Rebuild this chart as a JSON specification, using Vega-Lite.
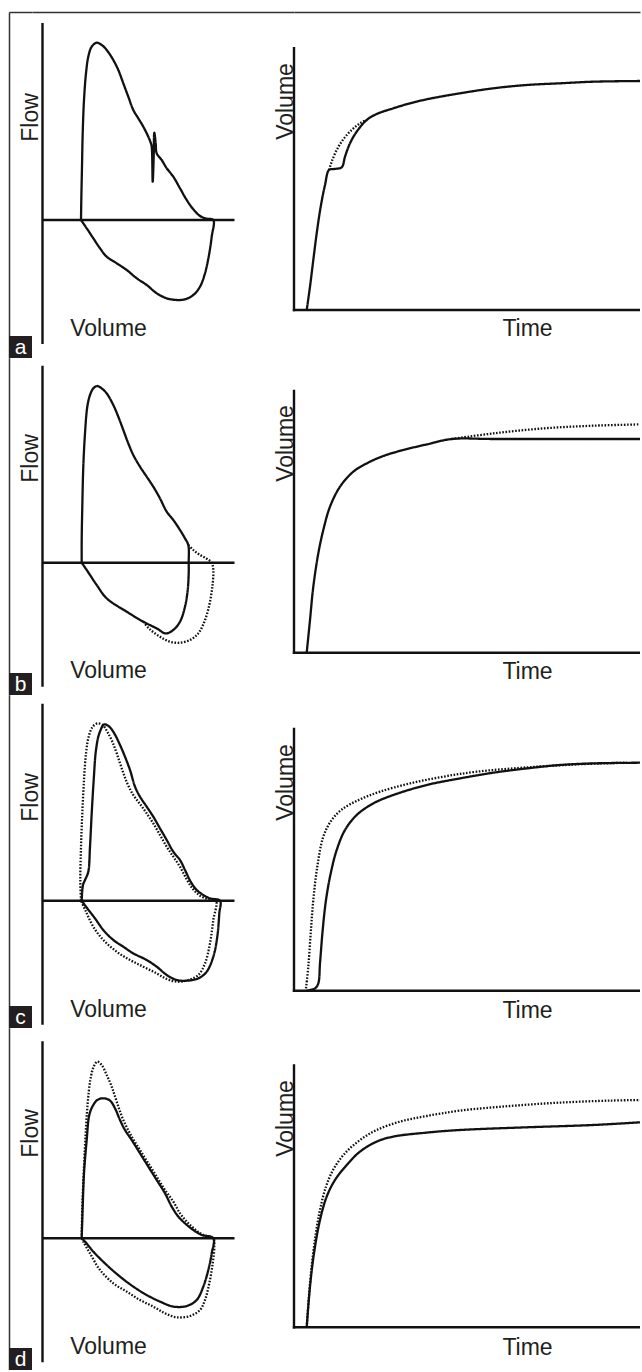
{
"$schema": "https://vega.github.io/schema/vega-lite/v6.json",
"padding": {"left": 9, "top": 12, "right": 0, "bottom": 0},
"background": "white",
"config": {
  "view": {"stroke": null},
  "axis": {"grid": false, "ticks": false, "labels": false, "domain": false, "domainColor": "#333", "domainWidth": 1.5,
           "titleFont": "Liberation Sans", "titleFontSize": 23, "titleFontWeight": "normal", "titleColor": "#231f20",
           "titleBaseline": "alphabetic", "titleAlign": "center", "titlePadding": 0},
  "line": {"color": "#111", "strokeWidth": 2.3},
  "rule": {"color": "#111", "strokeWidth": 2.4}
},
"datasets": {
"curves": [
{"r":"a","p":"L","s":"solid","x":3.85,"y":0},{"r":"a","p":"L","s":"solid","x":3.88,"y":2.0},{"r":"a","p":"L","s":"solid","x":3.95,"y":5.33},{"r":"a","p":"L","s":"solid","x":4.02,"y":8.67},{"r":"a","p":"L","s":"solid","x":4.15,"y":12.0},{"r":"a","p":"L","s":"solid","x":4.35,"y":14.67},{"r":"a","p":"L","s":"solid","x":4.58,"y":16.33},{"r":"a","p":"L","s":"solid","x":4.92,"y":17.33},{"r":"a","p":"L","s":"solid","x":5.42,"y":17.73},{"r":"a","p":"L","s":"solid","x":5.92,"y":17.5},{"r":"a","p":"L","s":"solid","x":6.42,"y":17.0},{"r":"a","p":"L","s":"solid","x":7.08,"y":16.0},{"r":"a","p":"L","s":"solid","x":7.58,"y":15.0},{"r":"a","p":"L","s":"solid","x":8.08,"y":13.67},{"r":"a","p":"L","s":"solid","x":8.58,"y":12.33},{"r":"a","p":"L","s":"solid","x":9.08,"y":11.0},{"r":"a","p":"L","s":"solid","x":9.58,"y":10.17},{"r":"a","p":"L","s":"solid","x":10.08,"y":9.33},{"r":"a","p":"L","s":"solid","x":10.58,"y":8.33},{"r":"a","p":"L","s":"solid","x":10.82,"y":7.73},{"r":"a","p":"L","s":"solid","x":10.92,"y":7.33},{"r":"a","p":"L","s":"solid","x":11.02,"y":3.83},{"r":"a","p":"L","s":"solid","x":11.12,"y":6.33},{"r":"a","p":"L","s":"solid","x":11.18,"y":8.73},{"r":"a","p":"L","s":"solid","x":11.32,"y":7.67},{"r":"a","p":"L","s":"solid","x":11.42,"y":6.67},{"r":"a","p":"L","s":"solid","x":11.92,"y":6.0},{"r":"a","p":"L","s":"solid","x":12.42,"y":5.17},{"r":"a","p":"L","s":"solid","x":13.08,"y":4.33},{"r":"a","p":"L","s":"solid","x":13.75,"y":3.17},{"r":"a","p":"L","s":"solid","x":14.42,"y":2.0},{"r":"a","p":"L","s":"solid","x":15.08,"y":1.07},{"r":"a","p":"L","s":"solid","x":15.75,"y":0.4},{"r":"a","p":"L","s":"solid","x":16.42,"y":0.13},{"r":"a","p":"L","s":"solid","x":17.08,"y":0},{"r":"a","p":"L","s":"solid","x":16.92,"y":-1.67},{"r":"a","p":"L","s":"solid","x":16.68,"y":-3.33},{"r":"a","p":"L","s":"solid","x":16.25,"y":-5.33},{"r":"a","p":"L","s":"solid","x":15.75,"y":-6.67},{"r":"a","p":"L","s":"solid","x":15.08,"y":-7.5},{"r":"a","p":"L","s":"solid","x":14.25,"y":-7.93},{"r":"a","p":"L","s":"solid","x":13.42,"y":-8.0},{"r":"a","p":"L","s":"solid","x":12.42,"y":-7.83},{"r":"a","p":"L","s":"solid","x":11.42,"y":-7.33},{"r":"a","p":"L","s":"solid","x":10.42,"y":-6.5},{"r":"a","p":"L","s":"solid","x":9.42,"y":-5.83},{"r":"a","p":"L","s":"solid","x":8.42,"y":-5.0},{"r":"a","p":"L","s":"solid","x":7.42,"y":-4.33},{"r":"a","p":"L","s":"solid","x":6.42,"y":-3.67},{"r":"a","p":"L","s":"solid","x":5.75,"y":-2.83},{"r":"a","p":"L","s":"solid","x":5.08,"y":-1.83},{"r":"a","p":"L","s":"solid","x":4.42,"y":-0.83},{"r":"a","p":"L","s":"solid","x":3.85,"y":0},

{"r":"a","p":"T","s":"solid","x":1.27,"y":0},{"r":"a","p":"T","s":"solid","x":1.6,"y":2.33},{"r":"a","p":"T","s":"solid","x":1.93,"y":5.0},{"r":"a","p":"T","s":"solid","x":2.27,"y":7.67},{"r":"a","p":"T","s":"solid","x":2.67,"y":10.33},{"r":"a","p":"T","s":"solid","x":3.1,"y":12.5},{"r":"a","p":"T","s":"solid","x":3.5,"y":14.0},{"r":"a","p":"T","s":"solid","x":4.0,"y":14.1},{"r":"a","p":"T","s":"solid","x":4.77,"y":14.27},{"r":"a","p":"T","s":"solid","x":5.1,"y":15.33},{"r":"a","p":"T","s":"solid","x":5.6,"y":16.67},{"r":"a","p":"T","s":"solid","x":6.27,"y":17.83},{"r":"a","p":"T","s":"solid","x":7.27,"y":19.0},{"r":"a","p":"T","s":"solid","x":8.27,"y":19.6},{"r":"a","p":"T","s":"solid","x":9.93,"y":20.17},{"r":"a","p":"T","s":"solid","x":11.6,"y":20.67},{"r":"a","p":"T","s":"solid","x":13.27,"y":21.07},{"r":"a","p":"T","s":"solid","x":16.6,"y":21.67},{"r":"a","p":"T","s":"solid","x":19.93,"y":22.17},{"r":"a","p":"T","s":"solid","x":23.27,"y":22.5},{"r":"a","p":"T","s":"solid","x":26.6,"y":22.67},{"r":"a","p":"T","s":"solid","x":29.93,"y":22.83},{"r":"a","p":"T","s":"solid","x":34.6,"y":22.9},
{"r":"a","p":"T","s":"dotted","x":3.5,"y":14.0},{"r":"a","p":"T","s":"dotted","x":3.77,"y":14.83},{"r":"a","p":"T","s":"dotted","x":4.27,"y":16.0},{"r":"a","p":"T","s":"dotted","x":4.93,"y":17.07},{"r":"a","p":"T","s":"dotted","x":5.77,"y":18.0},{"r":"a","p":"T","s":"dotted","x":6.6,"y":18.67},{"r":"a","p":"T","s":"dotted","x":7.27,"y":19.0},

{"r":"b","p":"L","s":"solid","x":3.92,"y":0},{"r":"b","p":"L","s":"solid","x":3.92,"y":2.27},{"r":"b","p":"L","s":"solid","x":3.98,"y":5.6},{"r":"b","p":"L","s":"solid","x":4.08,"y":9.6},{"r":"b","p":"L","s":"solid","x":4.25,"y":12.93},{"r":"b","p":"L","s":"solid","x":4.48,"y":15.6},{"r":"b","p":"L","s":"solid","x":4.75,"y":16.77},{"r":"b","p":"L","s":"solid","x":5.08,"y":17.43},{"r":"b","p":"L","s":"solid","x":5.48,"y":17.67},{"r":"b","p":"L","s":"solid","x":5.92,"y":17.43},{"r":"b","p":"L","s":"solid","x":6.42,"y":16.93},{"r":"b","p":"L","s":"solid","x":7.08,"y":15.77},{"r":"b","p":"L","s":"solid","x":7.58,"y":14.6},{"r":"b","p":"L","s":"solid","x":8.08,"y":13.27},{"r":"b","p":"L","s":"solid","x":8.58,"y":11.93},{"r":"b","p":"L","s":"solid","x":9.08,"y":10.77},{"r":"b","p":"L","s":"solid","x":9.75,"y":9.6},{"r":"b","p":"L","s":"solid","x":10.42,"y":8.6},{"r":"b","p":"L","s":"solid","x":11.08,"y":7.6},{"r":"b","p":"L","s":"solid","x":11.75,"y":6.43},{"r":"b","p":"L","s":"solid","x":12.42,"y":5.1},{"r":"b","p":"L","s":"solid","x":13.08,"y":4.27},{"r":"b","p":"L","s":"solid","x":13.75,"y":3.27},{"r":"b","p":"L","s":"solid","x":14.25,"y":2.43},{"r":"b","p":"L","s":"solid","x":14.58,"y":1.77},{"r":"b","p":"L","s":"solid","x":14.62,"y":0},{"r":"b","p":"L","s":"solid","x":14.62,"y":-1.07},{"r":"b","p":"L","s":"solid","x":14.52,"y":-2.73},{"r":"b","p":"L","s":"solid","x":14.25,"y":-4.4},{"r":"b","p":"L","s":"solid","x":13.75,"y":-5.9},{"r":"b","p":"L","s":"solid","x":13.08,"y":-6.73},{"r":"b","p":"L","s":"solid","x":12.32,"y":-7.07},{"r":"b","p":"L","s":"solid","x":11.42,"y":-6.57},{"r":"b","p":"L","s":"solid","x":10.08,"y":-5.9},{"r":"b","p":"L","s":"solid","x":8.42,"y":-4.9},{"r":"b","p":"L","s":"solid","x":6.42,"y":-3.57},{"r":"b","p":"L","s":"solid","x":5.42,"y":-2.23},{"r":"b","p":"L","s":"solid","x":4.42,"y":-0.73},{"r":"b","p":"L","s":"solid","x":3.92,"y":0},
{"r":"b","p":"L","s":"dotted","x":14.58,"y":1.77},{"r":"b","p":"L","s":"dotted","x":15.08,"y":1.27},{"r":"b","p":"L","s":"dotted","x":15.75,"y":0.77},{"r":"b","p":"L","s":"dotted","x":16.42,"y":0.4},{"r":"b","p":"L","s":"dotted","x":16.92,"y":0},{"r":"b","p":"L","s":"dotted","x":17.08,"y":-0.73},{"r":"b","p":"L","s":"dotted","x":17.02,"y":-2.07},{"r":"b","p":"L","s":"dotted","x":16.75,"y":-3.9},{"r":"b","p":"L","s":"dotted","x":16.25,"y":-5.73},{"r":"b","p":"L","s":"dotted","x":15.58,"y":-7.07},{"r":"b","p":"L","s":"dotted","x":14.75,"y":-7.73},{"r":"b","p":"L","s":"dotted","x":13.75,"y":-8.0},{"r":"b","p":"L","s":"dotted","x":12.75,"y":-7.9},{"r":"b","p":"L","s":"dotted","x":11.75,"y":-7.4},{"r":"b","p":"L","s":"dotted","x":10.75,"y":-6.67},{"r":"b","p":"L","s":"dotted","x":10.08,"y":-5.9},

{"r":"b","p":"T","s":"solid","x":1.27,"y":0},{"r":"b","p":"T","s":"solid","x":1.6,"y":3.27},{"r":"b","p":"T","s":"solid","x":1.93,"y":6.6},{"r":"b","p":"T","s":"solid","x":2.43,"y":9.93},{"r":"b","p":"T","s":"solid","x":2.93,"y":12.27},{"r":"b","p":"T","s":"solid","x":3.6,"y":14.6},{"r":"b","p":"T","s":"solid","x":4.6,"y":16.6},{"r":"b","p":"T","s":"solid","x":5.93,"y":18.1},{"r":"b","p":"T","s":"solid","x":7.27,"y":18.93},{"r":"b","p":"T","s":"solid","x":8.93,"y":19.67},{"r":"b","p":"T","s":"solid","x":10.93,"y":20.27},{"r":"b","p":"T","s":"solid","x":13.27,"y":20.83},{"r":"b","p":"T","s":"solid","x":15.77,"y":21.37},{"r":"b","p":"T","s":"solid","x":20.0,"y":21.37},{"r":"b","p":"T","s":"solid","x":34.6,"y":21.37},
{"r":"b","p":"T","s":"dotted","x":15.77,"y":21.37},{"r":"b","p":"T","s":"dotted","x":19.93,"y":21.93},{"r":"b","p":"T","s":"dotted","x":24.93,"y":22.43},{"r":"b","p":"T","s":"dotted","x":29.93,"y":22.7},{"r":"b","p":"T","s":"dotted","x":34.6,"y":22.83},

{"r":"c","p":"L","s":"solid","x":3.92,"y":0},{"r":"c","p":"L","s":"solid","x":4.05,"y":1.57},{"r":"c","p":"L","s":"solid","x":4.28,"y":2.13},{"r":"c","p":"L","s":"solid","x":4.58,"y":2.9},{"r":"c","p":"L","s":"solid","x":4.75,"y":5.4},{"r":"c","p":"L","s":"solid","x":4.92,"y":8.73},{"r":"c","p":"L","s":"solid","x":5.12,"y":12.07},{"r":"c","p":"L","s":"solid","x":5.35,"y":15.07},{"r":"c","p":"L","s":"solid","x":5.68,"y":16.73},{"r":"c","p":"L","s":"solid","x":6.18,"y":17.63},{"r":"c","p":"L","s":"solid","x":6.68,"y":17.4},{"r":"c","p":"L","s":"solid","x":7.18,"y":16.73},{"r":"c","p":"L","s":"solid","x":7.68,"y":15.73},{"r":"c","p":"L","s":"solid","x":8.18,"y":14.57},{"r":"c","p":"L","s":"solid","x":8.75,"y":13.07},{"r":"c","p":"L","s":"solid","x":9.25,"y":11.4},{"r":"c","p":"L","s":"solid","x":9.75,"y":10.4},{"r":"c","p":"L","s":"solid","x":10.42,"y":9.4},{"r":"c","p":"L","s":"solid","x":11.08,"y":8.4},{"r":"c","p":"L","s":"solid","x":11.75,"y":7.23},{"r":"c","p":"L","s":"solid","x":12.42,"y":6.07},{"r":"c","p":"L","s":"solid","x":13.08,"y":4.9},{"r":"c","p":"L","s":"solid","x":13.75,"y":4.07},{"r":"c","p":"L","s":"solid","x":14.25,"y":3.07},{"r":"c","p":"L","s":"solid","x":14.82,"y":1.9},{"r":"c","p":"L","s":"solid","x":15.42,"y":1.07},{"r":"c","p":"L","s":"solid","x":16.08,"y":0.57},{"r":"c","p":"L","s":"solid","x":16.75,"y":0.23},{"r":"c","p":"L","s":"solid","x":17.75,"y":0},{"r":"c","p":"L","s":"solid","x":17.68,"y":-1.27},{"r":"c","p":"L","s":"solid","x":17.48,"y":-3.6},{"r":"c","p":"L","s":"solid","x":17.08,"y":-5.6},{"r":"c","p":"L","s":"solid","x":16.42,"y":-7.1},{"r":"c","p":"L","s":"solid","x":15.58,"y":-7.77},{"r":"c","p":"L","s":"solid","x":14.42,"y":-8.0},{"r":"c","p":"L","s":"solid","x":13.42,"y":-7.93},{"r":"c","p":"L","s":"solid","x":12.42,"y":-7.43},{"r":"c","p":"L","s":"solid","x":11.42,"y":-6.6},{"r":"c","p":"L","s":"solid","x":10.42,"y":-5.93},{"r":"c","p":"L","s":"solid","x":9.08,"y":-5.27},{"r":"c","p":"L","s":"solid","x":8.08,"y":-4.6},{"r":"c","p":"L","s":"solid","x":7.08,"y":-3.93},{"r":"c","p":"L","s":"solid","x":6.08,"y":-2.93},{"r":"c","p":"L","s":"solid","x":5.25,"y":-1.77},{"r":"c","p":"L","s":"solid","x":4.48,"y":-0.77},{"r":"c","p":"L","s":"solid","x":3.92,"y":0},
{"r":"c","p":"L","s":"dotted","x":3.85,"y":0},{"r":"c","p":"L","s":"dotted","x":3.78,"y":2.07},{"r":"c","p":"L","s":"dotted","x":3.85,"y":5.4},{"r":"c","p":"L","s":"dotted","x":3.98,"y":8.73},{"r":"c","p":"L","s":"dotted","x":4.15,"y":12.07},{"r":"c","p":"L","s":"dotted","x":4.35,"y":14.73},{"r":"c","p":"L","s":"dotted","x":4.62,"y":16.4},{"r":"c","p":"L","s":"dotted","x":5.02,"y":17.4},{"r":"c","p":"L","s":"dotted","x":5.52,"y":17.73},{"r":"c","p":"L","s":"dotted","x":6.02,"y":17.57},{"r":"c","p":"L","s":"dotted","x":6.48,"y":16.9},{"r":"c","p":"L","s":"dotted","x":6.98,"y":15.9},{"r":"c","p":"L","s":"dotted","x":7.48,"y":14.57},{"r":"c","p":"L","s":"dotted","x":7.98,"y":13.07},{"r":"c","p":"L","s":"dotted","x":8.48,"y":11.73},{"r":"c","p":"L","s":"dotted","x":9.08,"y":10.57},{"r":"c","p":"L","s":"dotted","x":9.75,"y":9.67},{"r":"c","p":"L","s":"dotted","x":10.42,"y":8.73},{"r":"c","p":"L","s":"dotted","x":11.08,"y":7.73},{"r":"c","p":"L","s":"dotted","x":11.75,"y":6.57},{"r":"c","p":"L","s":"dotted","x":12.42,"y":5.4},{"r":"c","p":"L","s":"dotted","x":13.08,"y":4.4},{"r":"c","p":"L","s":"dotted","x":13.75,"y":3.4},{"r":"c","p":"L","s":"dotted","x":14.42,"y":2.13},{"r":"c","p":"L","s":"dotted","x":15.08,"y":1.13},{"r":"c","p":"L","s":"dotted","x":15.75,"y":0.5},{"r":"c","p":"L","s":"dotted","x":16.58,"y":0.13},{"r":"c","p":"L","s":"dotted","x":17.35,"y":0},{"r":"c","p":"L","s":"dotted","x":17.08,"y":-1.93},{"r":"c","p":"L","s":"dotted","x":16.75,"y":-4.27},{"r":"c","p":"L","s":"dotted","x":16.25,"y":-6.27},{"r":"c","p":"L","s":"dotted","x":15.58,"y":-7.43},{"r":"c","p":"L","s":"dotted","x":14.58,"y":-7.93},{"r":"c","p":"L","s":"dotted","x":13.42,"y":-8.1},{"r":"c","p":"L","s":"dotted","x":12.42,"y":-7.83},{"r":"c","p":"L","s":"dotted","x":11.42,"y":-7.27},{"r":"c","p":"L","s":"dotted","x":10.08,"y":-6.6},{"r":"c","p":"L","s":"dotted","x":8.75,"y":-5.93},{"r":"c","p":"L","s":"dotted","x":7.42,"y":-5.1},{"r":"c","p":"L","s":"dotted","x":6.08,"y":-3.93},{"r":"c","p":"L","s":"dotted","x":5.08,"y":-2.6},{"r":"c","p":"L","s":"dotted","x":4.35,"y":-1.1},{"r":"c","p":"L","s":"dotted","x":3.85,"y":0},

{"r":"c","p":"T","s":"solid","x":1.27,"y":0},{"r":"c","p":"T","s":"solid","x":2.1,"y":0.23},{"r":"c","p":"T","s":"solid","x":2.43,"y":0.73},{"r":"c","p":"T","s":"solid","x":2.6,"y":2.73},{"r":"c","p":"T","s":"solid","x":2.87,"y":6.07},{"r":"c","p":"T","s":"solid","x":3.2,"y":9.07},{"r":"c","p":"T","s":"solid","x":3.67,"y":11.73},{"r":"c","p":"T","s":"solid","x":4.27,"y":14.07},{"r":"c","p":"T","s":"solid","x":5.1,"y":16.07},{"r":"c","p":"T","s":"solid","x":6.27,"y":17.57},{"r":"c","p":"T","s":"solid","x":7.93,"y":18.73},{"r":"c","p":"T","s":"solid","x":9.93,"y":19.57},{"r":"c","p":"T","s":"solid","x":13.27,"y":20.57},{"r":"c","p":"T","s":"solid","x":16.6,"y":21.23},{"r":"c","p":"T","s":"solid","x":19.93,"y":21.8},{"r":"c","p":"T","s":"solid","x":23.27,"y":22.23},{"r":"c","p":"T","s":"solid","x":26.6,"y":22.57},{"r":"c","p":"T","s":"solid","x":29.93,"y":22.73},{"r":"c","p":"T","s":"solid","x":34.6,"y":22.8},
{"r":"c","p":"T","s":"dotted","x":1.2,"y":0.23},{"r":"c","p":"T","s":"dotted","x":1.43,"y":2.4},{"r":"c","p":"T","s":"dotted","x":1.67,"y":5.73},{"r":"c","p":"T","s":"dotted","x":1.93,"y":9.07},{"r":"c","p":"T","s":"dotted","x":2.33,"y":12.4},{"r":"c","p":"T","s":"dotted","x":2.93,"y":15.4},{"r":"c","p":"T","s":"dotted","x":3.77,"y":17.07},{"r":"c","p":"T","s":"dotted","x":4.93,"y":18.23},{"r":"c","p":"T","s":"dotted","x":6.6,"y":19.13},{"r":"c","p":"T","s":"dotted","x":8.6,"y":19.9},{"r":"c","p":"T","s":"dotted","x":11.6,"y":20.73},{"r":"c","p":"T","s":"dotted","x":14.93,"y":21.4},{"r":"c","p":"T","s":"dotted","x":18.27,"y":21.9},{"r":"c","p":"T","s":"dotted","x":23.27,"y":22.33},{"r":"c","p":"T","s":"dotted","x":28.27,"y":22.63},{"r":"c","p":"T","s":"dotted","x":33.27,"y":22.8},

{"r":"d","p":"L","s":"solid","x":3.92,"y":0},{"r":"d","p":"L","s":"solid","x":4.02,"y":3.17},{"r":"d","p":"L","s":"solid","x":4.15,"y":6.5},{"r":"d","p":"L","s":"solid","x":4.42,"y":9.83},{"r":"d","p":"L","s":"solid","x":4.68,"y":12.33},{"r":"d","p":"L","s":"solid","x":5.02,"y":13.23},{"r":"d","p":"L","s":"solid","x":5.48,"y":13.83},{"r":"d","p":"L","s":"solid","x":6.08,"y":14.0},{"r":"d","p":"L","s":"solid","x":6.75,"y":13.77},{"r":"d","p":"L","s":"solid","x":7.25,"y":13.0},{"r":"d","p":"L","s":"solid","x":7.75,"y":11.83},{"r":"d","p":"L","s":"solid","x":8.25,"y":10.83},{"r":"d","p":"L","s":"solid","x":8.92,"y":9.83},{"r":"d","p":"L","s":"solid","x":9.75,"y":8.5},{"r":"d","p":"L","s":"solid","x":10.58,"y":7.17},{"r":"d","p":"L","s":"solid","x":11.42,"y":5.83},{"r":"d","p":"L","s":"solid","x":12.25,"y":4.5},{"r":"d","p":"L","s":"solid","x":12.92,"y":3.17},{"r":"d","p":"L","s":"solid","x":13.58,"y":2.17},{"r":"d","p":"L","s":"solid","x":14.25,"y":1.5},{"r":"d","p":"L","s":"solid","x":15.08,"y":0.83},{"r":"d","p":"L","s":"solid","x":15.92,"y":0.33},{"r":"d","p":"L","s":"solid","x":17.08,"y":0},{"r":"d","p":"L","s":"solid","x":16.92,"y":-1.5},{"r":"d","p":"L","s":"solid","x":16.58,"y":-3.17},{"r":"d","p":"L","s":"solid","x":16.08,"y":-4.83},{"r":"d","p":"L","s":"solid","x":15.42,"y":-6.17},{"r":"d","p":"L","s":"solid","x":14.42,"y":-6.77},{"r":"d","p":"L","s":"solid","x":13.08,"y":-6.83},{"r":"d","p":"L","s":"solid","x":11.75,"y":-6.33},{"r":"d","p":"L","s":"solid","x":10.42,"y":-5.67},{"r":"d","p":"L","s":"solid","x":9.08,"y":-4.83},{"r":"d","p":"L","s":"solid","x":7.75,"y":-3.83},{"r":"d","p":"L","s":"solid","x":6.42,"y":-2.67},{"r":"d","p":"L","s":"solid","x":5.08,"y":-1.33},{"r":"d","p":"L","s":"solid","x":4.25,"y":-0.33},{"r":"d","p":"L","s":"solid","x":3.92,"y":0},
{"r":"d","p":"L","s":"dotted","x":3.92,"y":0},{"r":"d","p":"L","s":"dotted","x":3.98,"y":3.17},{"r":"d","p":"L","s":"dotted","x":4.12,"y":6.5},{"r":"d","p":"L","s":"dotted","x":4.28,"y":9.83},{"r":"d","p":"L","s":"dotted","x":4.52,"y":13.5},{"r":"d","p":"L","s":"dotted","x":4.78,"y":15.83},{"r":"d","p":"L","s":"dotted","x":5.12,"y":17.17},{"r":"d","p":"L","s":"dotted","x":5.48,"y":17.67},{"r":"d","p":"L","s":"dotted","x":5.92,"y":17.33},{"r":"d","p":"L","s":"dotted","x":6.42,"y":16.33},{"r":"d","p":"L","s":"dotted","x":6.92,"y":15.17},{"r":"d","p":"L","s":"dotted","x":7.42,"y":13.67},{"r":"d","p":"L","s":"dotted","x":8.08,"y":11.83},{"r":"d","p":"L","s":"dotted","x":8.92,"y":10.17},{"r":"d","p":"L","s":"dotted","x":9.75,"y":8.83},{"r":"d","p":"L","s":"dotted","x":10.58,"y":7.5},{"r":"d","p":"L","s":"dotted","x":11.42,"y":6.17},{"r":"d","p":"L","s":"dotted","x":12.25,"y":4.83},{"r":"d","p":"L","s":"dotted","x":13.08,"y":3.67},{"r":"d","p":"L","s":"dotted","x":13.75,"y":2.5},{"r":"d","p":"L","s":"dotted","x":14.42,"y":1.67},{"r":"d","p":"L","s":"dotted","x":15.25,"y":0.9},{"r":"d","p":"L","s":"dotted","x":16.08,"y":0.33},{"r":"d","p":"L","s":"dotted","x":17.08,"y":0},{"r":"d","p":"L","s":"dotted","x":17.18,"y":-0.83},{"r":"d","p":"L","s":"dotted","x":17.02,"y":-2.5},{"r":"d","p":"L","s":"dotted","x":16.68,"y":-4.5},{"r":"d","p":"L","s":"dotted","x":16.25,"y":-6.17},{"r":"d","p":"L","s":"dotted","x":15.75,"y":-7.17},{"r":"d","p":"L","s":"dotted","x":14.75,"y":-7.77},{"r":"d","p":"L","s":"dotted","x":13.42,"y":-7.9},{"r":"d","p":"L","s":"dotted","x":12.25,"y":-7.5},{"r":"d","p":"L","s":"dotted","x":11.08,"y":-6.83},{"r":"d","p":"L","s":"dotted","x":9.75,"y":-6.17},{"r":"d","p":"L","s":"dotted","x":8.42,"y":-5.33},{"r":"d","p":"L","s":"dotted","x":7.08,"y":-4.5},{"r":"d","p":"L","s":"dotted","x":5.75,"y":-3.17},{"r":"d","p":"L","s":"dotted","x":4.75,"y":-1.5},{"r":"d","p":"L","s":"dotted","x":4.08,"y":-0.33},{"r":"d","p":"L","s":"dotted","x":3.92,"y":0},

{"r":"d","p":"T","s":"solid","x":1.27,"y":0},{"r":"d","p":"T","s":"solid","x":1.6,"y":4.07},{"r":"d","p":"T","s":"solid","x":2.0,"y":7.4},{"r":"d","p":"T","s":"solid","x":2.6,"y":10.73},{"r":"d","p":"T","s":"solid","x":3.27,"y":13.07},{"r":"d","p":"T","s":"solid","x":4.1,"y":14.73},{"r":"d","p":"T","s":"solid","x":5.27,"y":16.23},{"r":"d","p":"T","s":"solid","x":6.6,"y":17.57},{"r":"d","p":"T","s":"solid","x":8.27,"y":18.57},{"r":"d","p":"T","s":"solid","x":9.93,"y":19.07},{"r":"d","p":"T","s":"solid","x":13.27,"y":19.47},{"r":"d","p":"T","s":"solid","x":16.6,"y":19.73},{"r":"d","p":"T","s":"solid","x":23.27,"y":20.0},{"r":"d","p":"T","s":"solid","x":29.93,"y":20.23},{"r":"d","p":"T","s":"solid","x":34.6,"y":20.5},
{"r":"d","p":"T","s":"dotted","x":1.27,"y":0},{"r":"d","p":"T","s":"dotted","x":1.6,"y":4.4},{"r":"d","p":"T","s":"dotted","x":2.0,"y":8.07},{"r":"d","p":"T","s":"dotted","x":2.53,"y":11.4},{"r":"d","p":"T","s":"dotted","x":3.2,"y":14.07},{"r":"d","p":"T","s":"dotted","x":4.0,"y":15.9},{"r":"d","p":"T","s":"dotted","x":5.1,"y":17.4},{"r":"d","p":"T","s":"dotted","x":6.6,"y":18.73},{"r":"d","p":"T","s":"dotted","x":8.27,"y":19.73},{"r":"d","p":"T","s":"dotted","x":10.6,"y":20.57},{"r":"d","p":"T","s":"dotted","x":13.27,"y":21.13},{"r":"d","p":"T","s":"dotted","x":16.6,"y":21.67},{"r":"d","p":"T","s":"dotted","x":21.6,"y":22.13},{"r":"d","p":"T","s":"dotted","x":26.6,"y":22.47},{"r":"d","p":"T","s":"dotted","x":31.6,"y":22.67},{"r":"d","p":"T","s":"dotted","x":34.6,"y":22.73}
]
},
"concat": [
{"width": 23, "height": 346, "data": {"values": [{"k": "a"}]}, "layer": [
  {"mark": {"type": "rect", "color": "#231f20"}, "encoding": {
    "x": {"datum": 0, "type": "quantitative", "scale": {"domain": [0, 1], "nice": false, "zero": false}, "axis": {"orient": "top", "domain": true, "title": null}},
    "x2": {"datum": 1},
    "y": {"datum": 0, "type": "quantitative", "scale": {"domain": [0, 346], "nice": false, "zero": false}, "axis": {"domain": true, "title": null}},
    "y2": {"datum": 22}}},
  {"mark": {"type": "text", "color": "white", "font": "Liberation Sans", "fontSize": 21, "baseline": "alphabetic", "align": "center"},
   "encoding": {"text": {"field": "k"}, "x": {"datum": 0.5, "type": "quantitative"}, "y": {"datum": 4, "type": "quantitative"}}}
]},
{"width": 262, "height": 346, "data": {"values": [{}]}, "layer": [
  {"mark": "rule", "encoding": {
    "x": {"datum": 0, "type": "quantitative", "scale": {"domain": [-1.05, 25.15], "nice": false, "zero": false}, "axis": {"orient": "top", "domain": true, "title": "Volume", "titleX": 76, "titleY": 323}},
    "y": {"datum": -12.4, "type": "quantitative", "scale": {"domain": [-13.8, 20.8], "nice": false, "zero": false}, "axis": {"title": "Flow", "titleX": 5, "titleY": 105}},
    "y2": {"datum": 19.7}}},
  {"mark": "rule", "encoding": {"x": {"datum": 0}, "x2": {"datum": 19.2}, "y": {"datum": 0}}},
  {"data": {"name": "curves"}, "transform": [{"filter": "datum.r == 'a' && datum.p == 'L'"}],
   "mark": {"type": "line", "interpolate": "catmull-rom"},
   "encoding": {"x": {"field": "x", "type": "quantitative"}, "y": {"field": "y", "type": "quantitative"},
     "strokeDash": {"field": "s", "type": "nominal", "scale": {"domain": ["solid", "dotted"], "range": [[1, 0], [1.6, 1.6]]}, "legend": null},
     "order": {"value": null}}}
]},
{"width": 346, "height": 346, "data": {"values": [{}]}, "layer": [
  {"mark": "rule", "encoding": {
    "x": {"datum": 0, "type": "quantitative", "scale": {"domain": [0, 34.6], "nice": false, "zero": false}, "axis": {"orient": "top", "domain": true, "title": "Time", "titleX": 233, "titleY": 323}},
    "y": {"datum": -0.12, "type": "quantitative", "scale": {"domain": [-4.8, 29.8], "nice": false, "zero": false}, "axis": {"title": "Volume", "titleX": -2, "titleY": 89}},
    "y2": {"datum": 26.3}}},
  {"mark": "rule", "encoding": {"x": {"datum": -0.12}, "x2": {"datum": 34.6}, "y": {"datum": 0}}},
  {"data": {"name": "curves"}, "transform": [{"filter": "datum.r == 'a' && datum.p == 'T'"}],
   "mark": {"type": "line", "interpolate": "catmull-rom"},
   "encoding": {"x": {"field": "x", "type": "quantitative"}, "y": {"field": "y", "type": "quantitative"},
     "strokeDash": {"field": "s", "type": "nominal", "scale": {"domain": ["solid", "dotted"], "range": [[1, 0], [1.6, 1.6]]}, "legend": null},
     "order": {"value": null}}}
]},

{"width": 23, "height": 337, "data": {"values": [{"k": "b"}]}, "layer": [
  {"mark": {"type": "rect", "color": "#231f20"}, "encoding": {
    "x": {"datum": 0, "type": "quantitative", "scale": {"domain": [0, 1], "nice": false, "zero": false}, "axis": null},
    "x2": {"datum": 1},
    "y": {"datum": 0, "type": "quantitative", "scale": {"domain": [0, 337], "nice": false, "zero": false}, "axis": {"domain": true, "title": null}},
    "y2": {"datum": 22}}},
  {"mark": {"type": "text", "color": "white", "font": "Liberation Sans", "fontSize": 21, "baseline": "alphabetic", "align": "center"},
   "encoding": {"text": {"field": "k"}, "x": {"datum": 0.5, "type": "quantitative"}, "y": {"datum": 4, "type": "quantitative"}}}
]},
{"width": 262, "height": 337, "data": {"values": [{}]}, "layer": [
  {"mark": "rule", "encoding": {
    "x": {"datum": 0, "type": "quantitative", "scale": {"domain": [-1.05, 25.15], "nice": false, "zero": false}, "axis": {"orient": "top", "title": "Volume", "titleX": 76, "titleY": 319}},
    "y": {"datum": -12.4, "type": "quantitative", "scale": {"domain": [-13.23, 20.47], "nice": false, "zero": false}, "axis": {"title": "Flow", "titleX": 5, "titleY": 100}},
    "y2": {"datum": 19.7}}},
  {"mark": "rule", "encoding": {"x": {"datum": 0}, "x2": {"datum": 19.2}, "y": {"datum": 0}}},
  {"data": {"name": "curves"}, "transform": [{"filter": "datum.r == 'b' && datum.p == 'L'"}],
   "mark": {"type": "line", "interpolate": "catmull-rom"},
   "encoding": {"x": {"field": "x", "type": "quantitative"}, "y": {"field": "y", "type": "quantitative"},
     "strokeDash": {"field": "s", "type": "nominal", "scale": {"domain": ["solid", "dotted"], "range": [[1, 0], [1.6, 1.6]]}, "legend": null},
     "order": {"value": null}}}
]},
{"width": 346, "height": 337, "data": {"values": [{}]}, "layer": [
  {"mark": "rule", "encoding": {
    "x": {"datum": 0, "type": "quantitative", "scale": {"domain": [0, 34.6], "nice": false, "zero": false}, "axis": {"orient": "top", "title": "Time", "titleX": 233, "titleY": 320}},
    "y": {"datum": -0.12, "type": "quantitative", "scale": {"domain": [-4.23, 29.47], "nice": false, "zero": false}, "axis": {"title": "Volume", "titleX": -2, "titleY": 85}},
    "y2": {"datum": 26.3}}},
  {"mark": "rule", "encoding": {"x": {"datum": -0.12}, "x2": {"datum": 34.6}, "y": {"datum": 0}}},
  {"data": {"name": "curves"}, "transform": [{"filter": "datum.r == 'b' && datum.p == 'T'"}],
   "mark": {"type": "line", "interpolate": "catmull-rom"},
   "encoding": {"x": {"field": "x", "type": "quantitative"}, "y": {"field": "y", "type": "quantitative"},
     "strokeDash": {"field": "s", "type": "nominal", "scale": {"domain": ["solid", "dotted"], "range": [[1, 0], [1.6, 1.6]]}, "legend": null},
     "order": {"value": null}}}
]},

{"width": 23, "height": 333, "data": {"values": [{"k": "c"}]}, "layer": [
  {"mark": {"type": "rect", "color": "#231f20"}, "encoding": {
    "x": {"datum": 0, "type": "quantitative", "scale": {"domain": [0, 1], "nice": false, "zero": false}, "axis": null},
    "x2": {"datum": 1},
    "y": {"datum": 0, "type": "quantitative", "scale": {"domain": [0, 333], "nice": false, "zero": false}, "axis": {"domain": true, "title": null}},
    "y2": {"datum": 22}}},
  {"mark": {"type": "text", "color": "white", "font": "Liberation Sans", "fontSize": 21, "baseline": "alphabetic", "align": "center"},
   "encoding": {"text": {"field": "k"}, "x": {"datum": 0.5, "type": "quantitative"}, "y": {"datum": 4, "type": "quantitative"}}}
]},
{"width": 262, "height": 333, "data": {"values": [{}]}, "layer": [
  {"mark": "rule", "encoding": {
    "x": {"datum": 0, "type": "quantitative", "scale": {"domain": [-1.05, 25.15], "nice": false, "zero": false}, "axis": {"orient": "top", "title": "Volume", "titleX": 76, "titleY": 321}},
    "y": {"datum": -12.4, "type": "quantitative", "scale": {"domain": [-12.73, 20.57], "nice": false, "zero": false}, "axis": {"title": "Flow", "titleX": 5, "titleY": 102}},
    "y2": {"datum": 19.7}}},
  {"mark": "rule", "encoding": {"x": {"datum": 0}, "x2": {"datum": 19.2}, "y": {"datum": 0}}},
  {"data": {"name": "curves"}, "transform": [{"filter": "datum.r == 'c' && datum.p == 'L'"}],
   "mark": {"type": "line", "interpolate": "catmull-rom"},
   "encoding": {"x": {"field": "x", "type": "quantitative"}, "y": {"field": "y", "type": "quantitative"},
     "strokeDash": {"field": "s", "type": "nominal", "scale": {"domain": ["solid", "dotted"], "range": [[1, 0], [1.6, 1.6]]}, "legend": null},
     "order": {"value": null}}}
]},
{"width": 346, "height": 333, "data": {"values": [{}]}, "layer": [
  {"mark": "rule", "encoding": {
    "x": {"datum": 0, "type": "quantitative", "scale": {"domain": [0, 34.6], "nice": false, "zero": false}, "axis": {"orient": "top", "title": "Time", "titleX": 233, "titleY": 322}},
    "y": {"datum": -0.12, "type": "quantitative", "scale": {"domain": [-3.73, 29.57], "nice": false, "zero": false}, "axis": {"title": "Volume", "titleX": -2, "titleY": 87}},
    "y2": {"datum": 26.3}}},
  {"mark": "rule", "encoding": {"x": {"datum": -0.12}, "x2": {"datum": 34.6}, "y": {"datum": 0}}},
  {"data": {"name": "curves"}, "transform": [{"filter": "datum.r == 'c' && datum.p == 'T'"}],
   "mark": {"type": "line", "interpolate": "catmull-rom"},
   "encoding": {"x": {"field": "x", "type": "quantitative"}, "y": {"field": "y", "type": "quantitative"},
     "strokeDash": {"field": "s", "type": "nominal", "scale": {"domain": ["solid", "dotted"], "range": [[1, 0], [1.6, 1.6]]}, "legend": null},
     "order": {"value": null}}}
]},

{"width": 23, "height": 342, "data": {"values": [{"k": "d"}]}, "layer": [
  {"mark": {"type": "rect", "color": "#231f20"}, "encoding": {
    "x": {"datum": 0, "type": "quantitative", "scale": {"domain": [0, 1], "nice": false, "zero": false}, "axis": null},
    "x2": {"datum": 1},
    "y": {"datum": 0, "type": "quantitative", "scale": {"domain": [0, 342], "nice": false, "zero": false}, "axis": {"domain": true, "title": null}},
    "y2": {"datum": 22}}},
  {"mark": {"type": "text", "color": "white", "font": "Liberation Sans", "fontSize": 21, "baseline": "alphabetic", "align": "center"},
   "encoding": {"text": {"field": "k"}, "x": {"datum": 0.5, "type": "quantitative"}, "y": {"datum": 4, "type": "quantitative"}}}
]},
{"width": 262, "height": 342, "data": {"values": [{}]}, "layer": [
  {"mark": "rule", "encoding": {
    "x": {"datum": 0, "type": "quantitative", "scale": {"domain": [-1.05, 25.15], "nice": false, "zero": false}, "axis": {"orient": "top", "title": "Volume", "titleX": 76, "titleY": 325}},
    "y": {"datum": -12.4, "type": "quantitative", "scale": {"domain": [-13.17, 21.03], "nice": false, "zero": false}, "axis": {"title": "Flow", "titleX": 5, "titleY": 105}},
    "y2": {"datum": 19.7}}},
  {"mark": "rule", "encoding": {"x": {"datum": 0}, "x2": {"datum": 19.2}, "y": {"datum": 0}}},
  {"data": {"name": "curves"}, "transform": [{"filter": "datum.r == 'd' && datum.p == 'L'"}],
   "mark": {"type": "line", "interpolate": "catmull-rom"},
   "encoding": {"x": {"field": "x", "type": "quantitative"}, "y": {"field": "y", "type": "quantitative"},
     "strokeDash": {"field": "s", "type": "nominal", "scale": {"domain": ["solid", "dotted"], "range": [[1, 0], [1.6, 1.6]]}, "legend": null},
     "order": {"value": null}}}
]},
{"width": 346, "height": 342, "data": {"values": [{}]}, "layer": [
  {"mark": "rule", "encoding": {
    "x": {"datum": 0, "type": "quantitative", "scale": {"domain": [0, 34.6], "nice": false, "zero": false}, "axis": {"orient": "top", "title": "Time", "titleX": 233, "titleY": 326}},
    "y": {"datum": -0.12, "type": "quantitative", "scale": {"domain": [-4.27, 29.93], "nice": false, "zero": false}, "axis": {"title": "Volume", "titleX": -2, "titleY": 90}},
    "y2": {"datum": 26.3}}},
  {"mark": "rule", "encoding": {"x": {"datum": -0.12}, "x2": {"datum": 34.6}, "y": {"datum": 0}}},
  {"data": {"name": "curves"}, "transform": [{"filter": "datum.r == 'd' && datum.p == 'T'"}],
   "mark": {"type": "line", "interpolate": "catmull-rom"},
   "encoding": {"x": {"field": "x", "type": "quantitative"}, "y": {"field": "y", "type": "quantitative"},
     "strokeDash": {"field": "s", "type": "nominal", "scale": {"domain": ["solid", "dotted"], "range": [[1, 0], [1.6, 1.6]]}, "legend": null},
     "order": {"value": null}}}
]}
],
"columns": 3,
"spacing": 0,
"bounds": "flush",
"align": "each"
}
